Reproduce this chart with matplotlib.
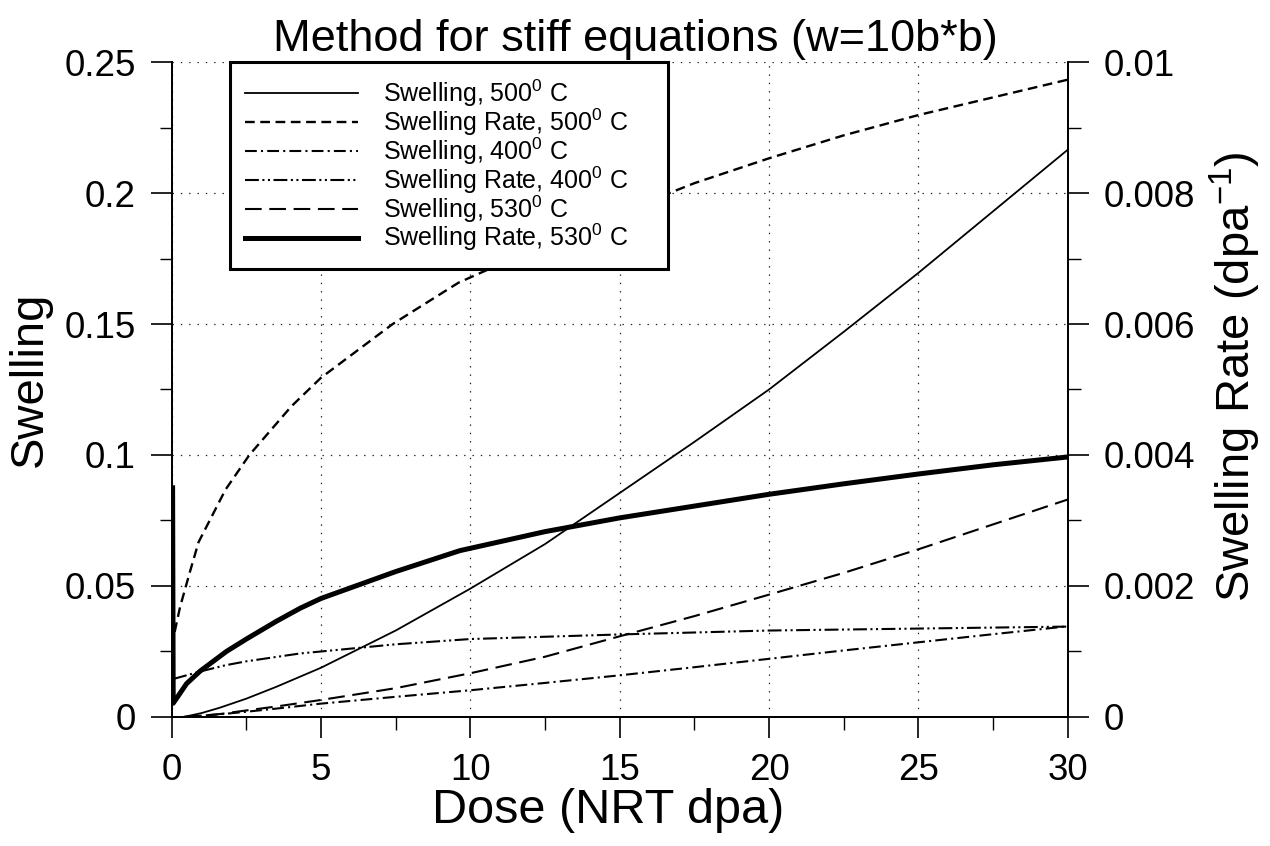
import matplotlib
matplotlib.use('Agg')
import matplotlib.pyplot as plt
from matplotlib.ticker import MultipleLocator

plt.rcParams['font.family'] = ['Liberation Sans', 'DejaVu Sans']
plt.rcParams['mathtext.fontset'] = 'custom'
plt.rcParams['mathtext.rm'] = 'Liberation Sans'
plt.rcParams['mathtext.it'] = 'Liberation Sans:italic'
plt.rcParams['mathtext.default'] = 'regular'
plt.rcParams['lines.scale_dashes'] = False

# Swelling (left axis)
dose_sw = [0.4, 1, 1.6, 2.5, 3.5, 5, 7.5, 10, 12.5, 15, 17.5, 20, 22.5, 25,
           27.5, 30]
swelling_500 = [0.0, 0.0015, 0.0035, 0.007, 0.0115, 0.0188, 0.033, 0.049,
                0.066, 0.0855, 0.105, 0.125, 0.147, 0.1695, 0.193, 0.2165]
swelling_400 = [0.0, 0.0005, 0.001, 0.002, 0.0032, 0.0051, 0.0077, 0.0102,
                0.013, 0.0159, 0.019, 0.0222, 0.0254, 0.0285, 0.0316, 0.0346]
swelling_530 = [0.0, 0.0005, 0.0011, 0.0025, 0.004, 0.0065, 0.011, 0.0167,
                0.023, 0.0308, 0.0385, 0.0467, 0.055, 0.064, 0.0735, 0.083]

# Swelling rate (right axis)
dose_r500 = [0.1, 0.28, 0.6, 0.9, 1.8, 2.6, 4, 5, 7.4, 9.6, 12.5, 15, 17.5,
             20, 22.5, 25, 27.5, 30]
rate_500 = [0.0013, 0.00168, 0.0022, 0.00267, 0.00347, 0.004, 0.00474,
            0.00518, 0.006, 0.00663, 0.00722, 0.0077, 0.00815, 0.00853,
            0.00888, 0.00919, 0.00946, 0.00973]

dose_r400 = [0.05, 1, 1.8, 2.5, 4.3, 5, 7.5, 10, 15, 20, 25, 30]
rate_400 = [0.00058, 0.0007, 0.00079, 0.00085, 0.00097, 0.001, 0.00111,
            0.00119, 0.00126, 0.00132, 0.00135, 0.00138]

dose_r530 = [0.03, 0.05, 0.5, 0.95, 1.83, 2.5, 3.5, 4.3, 5, 7.5, 9.65, 12.5,
             15, 17.5, 20, 22.5, 25, 27.5, 30]
rate_530 = [0.0035, 0.00021, 0.00051, 0.0007, 0.001, 0.00119, 0.00146,
            0.00166, 0.00181, 0.00222, 0.00254, 0.00283, 0.00304, 0.00322,
            0.0034, 0.00356, 0.00371, 0.00385, 0.00397]

labels = ['Swelling, 500$^0$ C', 'Swelling Rate, 500$^0$ C',
          'Swelling, 400$^0$ C', 'Swelling Rate, 400$^0$ C',
          'Swelling, 530$^0$ C', 'Swelling Rate, 530$^0$ C']

fig = plt.figure(figsize=(12.7, 8.46), dpi=100)
ax = fig.add_axes([0.1352, 0.1525, 0.7055, 0.7742])
ax2 = ax.twinx()

h1, = ax.plot(dose_sw, swelling_500, color='black', lw=1.3, ls='-')
h3, = ax.plot(dose_sw, swelling_400, color='black', lw=1.5,
              ls=(0, (8.5, 3, 1.5, 3)))
h5, = ax.plot(dose_sw, swelling_530, color='black', lw=1.5,
              ls=(0, (12, 5.5)))
h2, = ax2.plot(dose_r500, rate_500, color='black', lw=1.7, ls=(0, (7, 4)))
h4, = ax2.plot(dose_r400, rate_400, color='black', lw=1.5,
               ls=(0, (10, 2.5, 1.5, 2.5, 1.5, 2.5)))
h6, = ax2.plot(dose_r530, rate_530, color='black', lw=3.6, ls='-')

ax.set_xlim(0, 30)
ax.set_ylim(0, 0.25)
ax2.set_ylim(0, 0.01)

ax.xaxis.set_major_locator(MultipleLocator(5))
ax.xaxis.set_minor_locator(MultipleLocator(2.5))
ax.yaxis.set_major_locator(MultipleLocator(0.05))
ax.yaxis.set_minor_locator(MultipleLocator(0.025))
ax2.yaxis.set_major_locator(MultipleLocator(0.002))
ax2.yaxis.set_minor_locator(MultipleLocator(0.001))

ax.yaxis.set_major_formatter(plt.FuncFormatter(lambda v, p: ('%g' % round(v, 3))))
ax2.yaxis.set_major_formatter(plt.FuncFormatter(lambda v, p: ('%g' % round(v, 4))))

for a in (ax, ax2):
    a.tick_params(which='major', direction='out', length=15, width=1.2,
                  labelsize=26.5, pad=11)
    a.tick_params(which='minor', direction='out', length=9, width=1.0)
    a.spines['top'].set_visible(False)
    for s in ('left', 'right', 'bottom'):
        a.spines[s].set_linewidth(1.3)

ax.grid(True, which='major', color='#222222', ls=(0, (1, 5)), lw=0.9)

ax.set_xlabel('Dose (NRT dpa)', fontsize=35)
ax.xaxis.set_label_coords(0.487, -0.108)
ax.set_ylabel('Swelling', fontsize=34)
ax.yaxis.set_label_coords(-0.134, 0.515)
ax2.set_ylabel('Swelling Rate (dpa$^{-1}$)', fontsize=34)
ax2.yaxis.set_label_coords(1.157, 0.52)
ax.set_title('Method for stiff equations (w=10b*b)', fontsize=32.5, pad=8,
             x=0.518)

leg = ax2.legend([h1, h2, h3, h4, h5, h6], labels, loc='upper left',
                 bbox_to_anchor=(0.065, 0.0, 0.489, 1.0), mode='expand',
                 borderaxespad=0, fontsize=18, handlelength=4.5,
                 handletextpad=1.0, labelspacing=-0.1, borderpad=0.62,
                 fancybox=False, framealpha=1, edgecolor='black')
leg.get_frame().set_linewidth(2.2)

fig.savefig('out.png', dpi=100)
